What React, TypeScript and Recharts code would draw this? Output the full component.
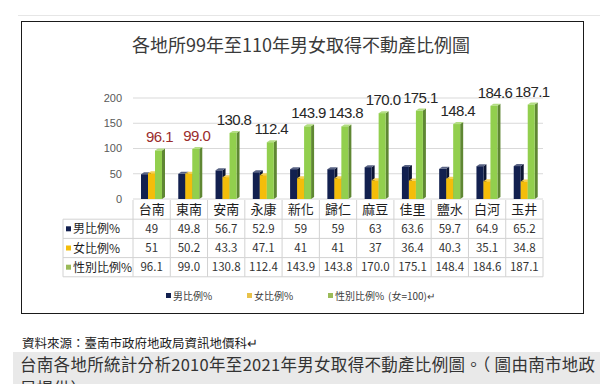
import { BarChart, Bar, XAxis, YAxis, CartesianGrid, LabelList } from 'recharts'

const districts = ['台南', '東南', '安南', '永康', '新化', '歸仁', '麻豆', '佳里', '鹽水', '白河', '玉井']
const maleShare = [49, 49.8, 56.7, 52.9, 59, 59, 63, 63.6, 59.7, 64.9, 65.2]
const femaleShare = [51, 50.2, 43.3, 47.1, 41, 41, 37, 36.4, 40.3, 35.1, 34.8]
const genderRatio = [96.1, 99.0, 130.8, 112.4, 143.9, 143.8, 170.0, 175.1, 148.4, 184.6, 187.1]
const yTicks = [0, 50, 100, 150, 200]

const seriesNames = ['男比例%', '女比例%', '性別比例%']
const title = '各地所99年至110年男女取得不動產比例圖'
const sourceNote = '資料來源：臺南市政府地政局資訊地價科↵'
const caption = '台南各地所統計分析2010年至2021年男女取得不動產比例圖。（ 圖由南市地政局提供）'

const NAVY = '#12204f'
const GOLD = '#f4bd0a'
const GREEN = '#92cf4e'
const FONT = '"Noto Sans CJK TC", "Noto Sans", sans-serif'

const data = districts.map((name, i) => ({
  name,
  male: maleShare[i],
  female: femaleShare[i],
  ratio: genderRatio[i],
}))

// darken / lighten a hex colour
function shade(hex: string, f: number) {
  const n = parseInt(hex.slice(1), 16)
  const ch = [(n >> 16) & 255, (n >> 8) & 255, n & 255].map((c) =>
    Math.round(f < 0 ? c * (1 + f) : c + (255 - c) * f)
  )
  return `rgb(${ch[0]},${ch[1]},${ch[2]})`
}

function Bar3D(props: any) {
  const { x, y, width, height, fill } = props
  if (!height || height <= 0) return null
  const dx = 3
  const dy = 2
  return (
    <g>
      <polygon
        points={`${x + width},${y} ${x + width + dx},${y - dy} ${x + width + dx},${y + height - dy} ${x + width},${y + height}`}
        fill={shade(fill, -0.35)}
      />
      <polygon
        points={`${x},${y} ${x + dx},${y - dy} ${x + width + dx},${y - dy} ${x + width},${y}`}
        fill={shade(fill, 0.3)}
      />
      <rect x={x} y={y} width={width} height={height} fill={fill} />
    </g>
  )
}

function RatioLabel(props: any) {
  const { x, y, width, value, index } = props
  const red = index < 2
  return (
    <text
      x={x + width / 2 + 1}
      y={y - 8}
      textAnchor="middle"
      fontSize={15}
      fontFamily='"Liberation Sans", sans-serif'
      letterSpacing={-0.6}
      fill={red ? '#9a2c2c' : '#262626'}
    >
      {Number(value).toFixed(1)}
    </text>
  )
}

const ROW = 19.2
const GRIDC = '#d2d2d2'

// x axis tick draws one column of the data table
function TableTick(props: any) {
  const { x, y, index, payload, width, visibleTicksCount } = props
  const bw = width && visibleTicksCount ? width / visibleTicksCount : 37.3
  const left = x - bw / 2
  const right = x + bw / 2
  const top = y + 1
  const vals = [String(maleShare[index]), String(femaleShare[index]), genderRatio[index].toFixed(1)]
  const markers = [NAVY, GOLD, '#9bbb59']
  return (
    <g fontFamily={FONT}>
      <line x1={left} x2={left} y1={top} y2={top + ROW * 4} stroke={GRIDC} />
      {index === districts.length - 1 && (
        <line x1={right} x2={right} y1={top} y2={top + ROW * 4} stroke={GRIDC} />
      )}
      <text x={x} y={top + ROW / 2 + 4.5} textAnchor="middle" fontSize={13} fill="#1e1e1e">
        {payload.value}
      </text>
      {vals.map((v, r) => (
        <g key={r}>
          <line x1={left} x2={right} y1={top + ROW * (r + 1)} y2={top + ROW * (r + 1)} stroke={GRIDC} />
          <text x={x} y={top + ROW * (r + 1.5) + 4} textAnchor="middle" fontSize={11.5} fill="#333">
            {v}
          </text>
        </g>
      ))}
      <line x1={left} x2={right} y1={top + ROW * 4} y2={top + ROW * 4} stroke={GRIDC} />
      {index === 0 && (
        <g>
          <line x1={left - 70} x2={left - 70} y1={top + ROW} y2={top + ROW * 4} stroke={GRIDC} />
          {seriesNames.map((s, r) => (
            <g key={s}>
              <line x1={left - 70} x2={left} y1={top + ROW * (r + 1)} y2={top + ROW * (r + 1)} stroke={GRIDC} />
              <rect x={left - 67} y={top + ROW * (r + 1.5) - 2.5} width={5} height={5} fill={markers[r]} />
              <text x={left - 60} y={top + ROW * (r + 1.5) + 4.5} fontSize={12} fill="#1e1e1e">
                {s}
              </text>
            </g>
          ))}
          <line x1={left - 70} x2={left} y1={top + ROW * 4} y2={top + ROW * 4} stroke={GRIDC} />
        </g>
      )}
    </g>
  )
}

function LegendRow() {
  const items = [
    { label: seriesNames[0], color: NAVY, left: 166 },
    { label: seriesNames[1], color: '#e8c24a', left: 247 },
    { label: seriesNames[2], color: '#9bbb59', left: 328 },
  ]
  return (
    <div style={{ position: 'absolute', left: 0, top: 288, width: 600, height: 16, fontFamily: FONT, fontSize: 10, color: '#404040' }}>
      {items.map((it) => (
        <div key={it.label} style={{ position: 'absolute', left: it.left, top: 0, display: 'flex', alignItems: 'center', whiteSpace: 'nowrap' }}>
          <span style={{ display: 'inline-block', width: 5, height: 5, background: it.color, marginRight: 2 }} />
          <span>{it.label}</span>
        </div>
      ))}
      <div style={{ position: 'absolute', left: 388, top: 0, whiteSpace: 'nowrap' }}>(女=100)↵</div>
    </div>
  )
}

export default function App() {
  return (
    <div style={{ position: 'absolute', left: 0, top: 0, width: 600, height: 384, background: '#fff', overflow: 'hidden', fontFamily: FONT }}>
      <div style={{ position: 'absolute', left: 18, top: 15, width: 582, height: 1, background: '#e6e6e6' }} />
      <div style={{ position: 'absolute', left: 21, top: 21, width: 561, height: 291, border: '1.5px solid #1a1a1a' }} />
      <div style={{ position: 'absolute', left: 0, top: 31, width: 602, textAlign: 'center', fontSize: 18, color: '#3a3a3a', whiteSpace: 'nowrap' }}>
        {title}
      </div>
      <div style={{ position: 'absolute', left: 0, top: 0 }}>
        <BarChart
          width={600}
          height={290}
          data={data}
          margin={{ top: 98, right: 57, bottom: 0, left: 0 }}
          barSize={7}
          barGap={0}
        >
          <CartesianGrid vertical={false} stroke="#d9d9d9" />
          <YAxis
            domain={[0, 200]}
            ticks={yTicks}
            width={133}
            axisLine={false}
            tickLine={false}
            tickMargin={5}
            tick={{ fontSize: 11, fill: '#595959', fontFamily: '"Liberation Sans", sans-serif' }}
            interval={0}
          />
          <XAxis
            dataKey="name"
            height={91}
            axisLine={false}
            tickLine={false}
            tickSize={0}
            tickMargin={0}
            interval={0}
            tick={<TableTick />}
          />
          <Bar dataKey="male" fill={NAVY} shape={<Bar3D />} isAnimationActive={false} />
          <Bar dataKey="female" fill={GOLD} shape={<Bar3D />} isAnimationActive={false} />
          <Bar dataKey="ratio" fill={GREEN} shape={<Bar3D />} isAnimationActive={false}>
            <LabelList dataKey="ratio" content={<RatioLabel />} />
          </Bar>
        </BarChart>
      </div>
      <LegendRow />
      <div style={{ position: 'absolute', left: 22, top: 333, fontSize: 12.5, color: '#222', whiteSpace: 'nowrap' }}>
        {sourceNote}
      </div>
      <div style={{ position: 'absolute', left: 13, top: 352, width: 587, height: 40, background: '#e9e9e9' }}>
        <div style={{ position: 'absolute', left: 7, top: 0, width: 580, fontSize: 16.5, lineHeight: '24px', letterSpacing: 0.3, color: '#333' }}>
          {caption}
        </div>
      </div>
    </div>
  )
}
